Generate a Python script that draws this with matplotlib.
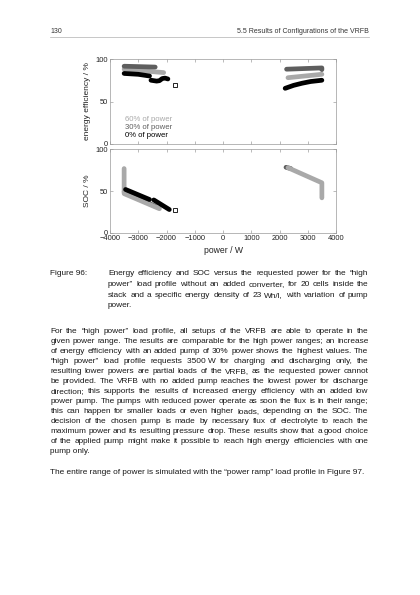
import matplotlib
matplotlib.use("Agg")
import matplotlib.pyplot as plt
from matplotlib.font_manager import FontProperties

W, H = 420, 595
plt.rcParams['font.family'] = ['Liberation Sans', 'DejaVu Sans']
TXT = '#1a1a1a'

# ---- chart data ----
# energy efficiency, discharge side (negative power)
eff_d60_x = [-3500, -2100]
eff_d60_y = [88, 84]
eff_d30_x = [-3500, -2400]
eff_d30_y = [91.5, 90.5]
eff_d0_x = [-3500, -3000, -2600]
eff_d0_y = [83, 82, 80]
eff_d0_x2 = [-2550, -2350, -2250, -2150, -2050, -1950]
eff_d0_y2 = [75, 74, 74.5, 77, 77.5, 76.5]
# energy efficiency, charge side
eff_c60_x = [2300, 3500]
eff_c60_y = [78, 82]
eff_c30_x = [2250, 3500, 3500]
eff_c30_y = [88, 89.5, 87.5]
eff_c0_x = [2200, 2500, 2800, 3100, 3500]
eff_c0_y = [65.5, 69, 71.5, 73.5, 75]
# SOC, discharge side
soc_d60_x = [-3500, -3500, -2250]
soc_d60_y = [77, 47, 29]
soc_d30_x = [-3500, -2400]
soc_d30_y = [49, 32]
soc_d0_x = [-3450, -2600]
soc_d0_y = [52, 40]
soc_d0_x2 = [-2450, -1900]
soc_d0_y2 = [39.5, 28]
# SOC, charge side
soc_c60_x = [2300, 3500, 3500]
soc_c60_y = [78, 60, 42]
soc_c30_x = [2230, 2400]
soc_c30_y = [78.5, 77]
# last point (open square)
end_x = -1700
end_eff = 69
end_soc = 27.5

x_ticks = [-4000, -3000, -2000, -1000, 0, 1000, 2000, 3000, 4000]
y_ticks = [0, 50, 100]
legend_labels = ['60% of power', '30% of power', '0% of power']

C60, C30, C0 = '#a9a9a9', '#5e5e5e', '#000000'

# ---- page text ----
header_left = '130'
header_right = '5.5 Results of Configurations of the VRFB'
caption_label = 'Figure 96:'
caption_lines = [
    'Energy efficiency and SOC versus the requested power for the \u201chigh',
    'power\u201d load profile without an added converter, for 20 cells inside the',
    'stack and a specific energy density of 23 Wh/l, with variation of pump',
    'power.',
]
body_lines = [
    'For the \u201chigh power\u201d load profile, all setups of the VRFB are able to operate in the',
    'given power range. The results are comparable for the high power ranges; an increase',
    'of energy efficiency with an added pump of 30% power shows the highest values. The',
    '\u201chigh power\u201d load profile requests 3500\u00a0W for charging and discharging only, the',
    'resulting lower powers are partial loads of the VRFB, as the requested power cannot',
    'be provided. The VRFB with no added pump reaches the lowest power for discharge',
    'direction; this supports the results of increased energy efficiency with an added low',
    'power pump. The pumps with reduced power operate as soon the flux is in their range;',
    'this can happen for smaller loads or even higher loads, depending on the SOC. The',
    'decision of the chosen pump is made by necessary flux of electrolyte to reach the',
    'maximum power and its resulting pressure drop. These results show that a good choice',
    'of the applied pump might make it possible to reach high energy efficiencies with one',
    'pump only.',
]
last_line = 'The entire range of power is simulated with the \u201cpower ramp\u201d load profile in Figure 97.'

fig = plt.figure(figsize=(W / 100, H / 100), dpi=100)
renderer = fig.canvas.get_renderer()


def fx(x):
    return x / W


def fy(y):
    return 1 - y / H


def twidth(s, size):
    fp = FontProperties(family='Liberation Sans', size=size)
    w, h, d = renderer.get_text_width_height_descent(s, fp, ismath=False)
    return w


def put_line(line, x0, x1, y, size, justify=True):
    words = line.split(' ')
    if not justify or len(words) == 1:
        fig.text(fx(x0), fy(y), line, fontsize=size, va='center', ha='left', color=TXT)
        return
    # shrink this line a little if it does not fit with a normal-ish space
    while size > 4.5:
        widths = [twidth(w, size) for w in words]
        space = twidth('a a', size) - 2 * twidth('a', size)
        if sum(widths) + 0.85 * space * (len(words) - 1) <= x1 - x0:
            break
        size -= 0.05
    gap = (x1 - x0 - sum(widths)) / (len(words) - 1)
    x = x0
    for w, wd in zip(words, widths):
        fig.text(fx(x), fy(y), w, fontsize=size, va='center', ha='left', color=TXT)
        x += wd + gap


BODY = 5.98

# header
fig.text(fx(50), fy(31.5), header_left, fontsize=5.0, va='center', ha='left', color='#333333')
fig.text(fx(368.5), fy(31.5), header_right, fontsize=5.0, va='center', ha='right', color='#333333')
fig.add_artist(plt.Line2D([fx(50), fx(368.5)], [fy(37), fy(37)], color='#b0b0b0', lw=0.5))

# caption
fig.text(fx(50.5), fy(273.5), caption_label, fontsize=BODY, va='center', ha='left', color=TXT)
for i, line in enumerate(caption_lines):
    put_line(line, 108, 368.5, 273.5 + i * 10.8, BODY, justify=(i < len(caption_lines) - 1))

# body
for i, line in enumerate(body_lines):
    put_line(line, 50.5, 368.5, 331.7 + i * 9.95, BODY, justify=(i < len(body_lines) - 1))
put_line(last_line, 50.5, 368.5, 472.7, BODY, justify=False)

# ---- chart ----
ax1 = fig.add_axes([fx(110), fy(144), (336 - 110) / W, (144 - 59) / H])
ax2 = fig.add_axes([fx(110), fy(233), (336 - 110) / W, (233 - 149.3) / H])

lw = 3.4
kw = dict(lw=lw, solid_capstyle='round', solid_joinstyle='round')
ax1.plot(eff_d60_x, eff_d60_y, color=C60, **kw)
ax1.plot(eff_d30_x, eff_d30_y, color=C30, **kw)
ax1.plot(eff_d0_x, eff_d0_y, color=C0, **kw)
ax1.plot(eff_d0_x2, eff_d0_y2, color=C0, **kw)
ax1.plot(eff_c30_x, eff_c30_y, color=C30, **kw)
ax1.plot(eff_c60_x, eff_c60_y, color=C60, **kw)
ax1.plot(eff_c0_x, eff_c0_y, color=C0, **kw)
ax1.plot([end_x], [end_eff], 's', ms=2.8, mfc='white', mec='black', mew=0.6)

ax2.plot(soc_d30_x, soc_d30_y, color=C30, **kw)
ax2.plot(soc_d60_x, soc_d60_y, color=C60, **kw)
ax2.plot(soc_d0_x, soc_d0_y, color=C0, **kw)
ax2.plot(soc_d0_x2, soc_d0_y2, color=C0, **kw)
ax2.plot(soc_c30_x, soc_c30_y, color=C30, **kw)
ax2.plot(soc_c60_x, soc_c60_y, color=C60, **kw)
ax2.plot([end_x], [end_soc], 's', ms=2.8, mfc='white', mec='black', mew=0.6)

for ax in (ax1, ax2):
    ax.set_xlim(-4000, 4000)
    ax.set_ylim(0, 100)
    ax.set_xticks(x_ticks)
    ax.set_yticks(y_ticks)
    ax.tick_params(direction='in', length=2, width=0.4, color='#888888', top=True, right=True,
                   labelsize=5.4, pad=1.5, labelcolor='#222222')
    for s in ax.spines.values():
        s.set_color('#9a9a9a')
        s.set_linewidth(0.5)

ax1.tick_params(labelbottom=False)
ax1.set_ylabel('energy efficiency / %', fontsize=6.0, color='#222222')
ax1.yaxis.set_label_coords(-0.085, 0.5)
ax2.set_ylabel('SOC / %', fontsize=6.0, color='#222222')
ax2.yaxis.set_label_coords(-0.085, 0.5)
ax2.set_xlabel('power / W', fontsize=6.2, color='#222222')
ax2.xaxis.set_label_coords(0.5, -0.16)

for lab, col, yy in zip(legend_labels, [C60, C30, C0], [0.294, 0.196, 0.102]):
    ax1.text(0.066, yy, lab, transform=ax1.transAxes, fontsize=5.6, color=col, va='center', ha='left')

fig.savefig('out.png', dpi=100)
